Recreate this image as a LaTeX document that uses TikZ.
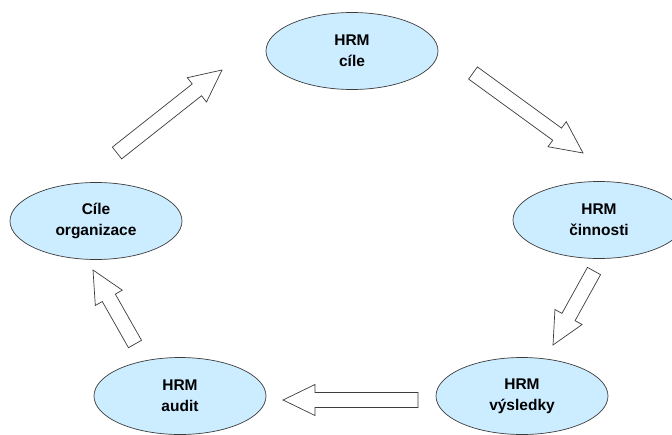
\documentclass[tikz,border=0pt]{standalone}
\usepackage{fontspec}
\setmainfont{Liberation Sans}
\usetikzlibrary{shapes.geometric,calc}

\definecolor{hrmfill}{RGB}{204,236,255}
\definecolor{hrmline}{RGB}{60,60,60}

% block arrow from #1 (tail) to #2 (tip)
\newcommand{\blockarrow}[2]{%
  \coordinate (hb) at ($(#2)!32pt!(#1)$);
  \draw[fatarrow] ($(#1)!7.5pt!90:(#2)$) -- ($(hb)!7.5pt!-90:(#1)$)
    -- ($(hb)!15.5pt!-90:(#1)$) -- (#2) -- ($(hb)!15.5pt!90:(#1)$)
    -- ($(hb)!7.5pt!90:(#1)$) -- ($(#1)!7.5pt!-90:(#2)$) -- cycle;}

\tikzset{fatarrow/.style={draw=hrmline,fill=white,line width=.7pt,line join=miter}}

\begin{document}
\begin{tikzpicture}[x=1pt,y=-1pt]

        \clip (0,0) rectangle (672,434);
        \useasboundingbox (0,0) rectangle (672,434);

        \begin{scope}[every node/.style={ellipse,draw=hrmline,fill=hrmfill,line width=.7pt,
            minimum width=172pt,minimum height=77pt,inner sep=0pt,align=center,
            font=\fontsize{15.5}{21}\selectfont\bfseries}]
          \node (cile)       at (352,51)  {HRM\\cíle};
          \node (cinnosti)   at (599,220) {HRM\\činnosti};
          \node (vysledky)   at (522,396) {HRM\\výsledky};
          \node (audit)      at (180,396) {HRM\\audit};
          \node (organizace) at (96,221)  {Cíle\\organizace};
        \end{scope}

        \coordinate (a1t) at (117,153);   \coordinate (a1h) at (222,70);
        \coordinate (a2t) at (473,73);    \coordinate (a2h) at (583,153);
        \coordinate (a3t) at (594,271);   \coordinate (a3h) at (553,345);
        \coordinate (a4t) at (418,400);   \coordinate (a4h) at (283,400);
        \coordinate (a5t) at (135,344);   \coordinate (a5h) at (93,270);

        \blockarrow{a1t}{a1h}
        \blockarrow{a2t}{a2h}
        \blockarrow{a3t}{a3h}
        \blockarrow{a4t}{a4h}
        \blockarrow{a5t}{a5h}

      \end{tikzpicture}
\end{document}
